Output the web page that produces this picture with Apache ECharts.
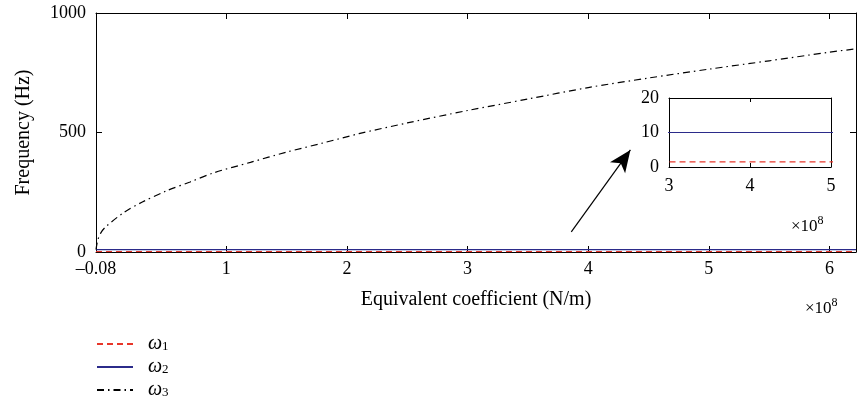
<!DOCTYPE html>
<html>
<head>
<meta charset="utf-8">
<script src="https://cdn.jsdelivr.net/npm/echarts@6/dist/echarts.min.js"></script>
<style>html,body{margin:0;padding:0;background:#fff}#c{width:857px;height:402px}</style>
</head>
<body>
<div id="c"></div>
<script>
// ---- data ----
const xK = [-0.08, -0.065, -0.04, 0, 0.15, 0.3, 0.5, 0.7, 0.9, 1.2, 1.5, 1.8, 2.1, 2.5, 3, 3.5, 4, 4.5, 5, 5.5, 6, 6.22];
const w3 = [10, 50, 80, 105, 165, 208, 255, 293, 332, 375, 418, 456, 495, 540, 592, 640, 688, 728, 765, 800, 836, 850];
const xFlat = [-0.08, 6.22];
const w1 = [1.5, 1.5];
const w2 = [10, 10];
const xTickLabels = [-0.08, 1, 2, 3, 4, 5, 6];
const xTicks = [1, 2, 3, 4, 5, 6];
const seriesNames = ['ω1', 'ω2', 'ω3'];
const arrowFrom = [3.86, 84];
const arrowTo = [4.35, 427];

const FONT = 'Liberation Serif';
const RED = '#e8362a', BLUE = '#2b2b8a', BLACK = '#000';
const pair = (xs, ys) => xs.map((x, i) => [x, ys[i]]);

const chart = echarts.init(document.getElementById('c'));
const axisLineStyle = { show: true, onZero: false, lineStyle: { color: '#000', width: 1 } };
const lbl = { fontFamily: FONT, fontSize: 18, color: '#000' };
const tickIn = (len, extra) => Object.assign({ inside: true, length: len, lineStyle: { color: '#000' } }, extra || {});

chart.setOption({
  animation: false,
  grid: [
    { left: 96, top: 13, right: 1, bottom: 150 },
    { left: 669, top: 98, width: 162, height: 69 }
  ],
  xAxis: [
    { type: 'value', gridIndex: 0, min: -0.08, max: 6.22, position: 'bottom',
      axisLine: axisLineStyle, splitLine: { show: false },
      axisTick: tickIn(6, { customValues: xTicks }),
      axisLabel: Object.assign({ margin: 8, customValues: xTickLabels,
        formatter: v => v < 0 ? '\u2013' + Math.abs(v).toFixed(2) : String(v) }, lbl),
      name: 'Equivalent coefficient (N/m)', nameLocation: 'middle', nameGap: 38,
      nameTextStyle: { fontFamily: FONT, fontSize: 20, color: '#000' } },
    { type: 'value', gridIndex: 0, min: -0.08, max: 6.22, position: 'top',
      axisLine: axisLineStyle, splitLine: { show: false },
      axisTick: tickIn(6, { customValues: xTicks }),
      axisLabel: { show: false } },
    { type: 'value', gridIndex: 1, min: 3, max: 5, interval: 1, position: 'bottom',
      axisLine: axisLineStyle, splitLine: { show: false },
      axisTick: tickIn(4),
      axisLabel: Object.assign({ margin: 10 }, lbl) },
    { type: 'value', gridIndex: 1, min: 3, max: 5, interval: 1, position: 'top',
      axisLine: axisLineStyle, splitLine: { show: false },
      axisTick: tickIn(4),
      axisLabel: { show: false } }
  ],
  yAxis: [
    { type: 'value', gridIndex: 0, min: 0, max: 1000, interval: 500, position: 'left',
      axisLine: axisLineStyle, splitLine: { show: false },
      axisTick: tickIn(6),
      axisLabel: Object.assign({ margin: 10, formatter: v => String(v) }, lbl),
      name: 'Frequency (Hz)', nameLocation: 'middle', nameGap: 62, nameRotate: 90,
      nameTextStyle: { fontFamily: FONT, fontSize: 20, color: '#000' } },
    { type: 'value', gridIndex: 0, min: 0, max: 1000, interval: 500, position: 'right',
      axisLine: axisLineStyle, splitLine: { show: false },
      axisTick: tickIn(6),
      axisLabel: { show: false } },
    { type: 'value', gridIndex: 1, min: 0, max: 20, interval: 10, position: 'left',
      axisLine: axisLineStyle, splitLine: { show: false },
      axisTick: tickIn(4),
      axisLabel: Object.assign({ margin: 10, formatter: v => String(v) }, lbl) },
    { type: 'value', gridIndex: 1, min: 0, max: 20, interval: 10, position: 'right',
      axisLine: axisLineStyle, splitLine: { show: false },
      axisTick: tickIn(4),
      axisLabel: { show: false } }
  ],
  legend: {
    orient: 'vertical', left: 96, top: 334, height: 120, padding: 0, itemWidth: 36, itemHeight: 12, itemGap: 3,
    data: seriesNames,
    itemStyle: { opacity: 0 },
    formatter: n => '{w|ω}{s|' + n.slice(1) + '}',
    textStyle: {
      rich: {
        w: { fontFamily: FONT, fontStyle: 'italic', fontSize: 20, color: '#000', lineHeight: 18, padding: [0, 0, 0, 10] },
        s: { fontFamily: FONT, fontSize: 13, color: '#000', lineHeight: 10, verticalAlign: 'bottom' }
      }
    }
  },
  graphic: [
    { type: 'text', left: 805, top: 297, style: {
        text: '{a|×10}{b|8}', rich: {
          a: { fontFamily: FONT, fontSize: 17, fill: '#000', lineHeight: 24 },
          b: { fontFamily: FONT, fontSize: 12, fill: '#000', lineHeight: 12, verticalAlign: 'top' } } } },
    { type: 'text', left: 791, top: 215, style: {
        text: '{a|×10}{b|8}', rich: {
          a: { fontFamily: FONT, fontSize: 17, fill: '#000', lineHeight: 24 },
          b: { fontFamily: FONT, fontSize: 12, fill: '#000', lineHeight: 12, verticalAlign: 'top' } } } }
  ],
  series: [
    { name: seriesNames[0], type: 'line', xAxisIndex: 0, yAxisIndex: 0, data: pair(xFlat, w1), symbol: 'none',
      lineStyle: { color: RED, width: 1.2, type: [6, 4] }, itemStyle: { color: RED } },
    { name: seriesNames[1], type: 'line', xAxisIndex: 0, yAxisIndex: 0, data: pair(xFlat, w2), symbol: 'none',
      lineStyle: { color: BLUE, width: 1.2, type: 'solid' }, itemStyle: { color: BLUE } },
    { name: seriesNames[2], type: 'line', xAxisIndex: 0, yAxisIndex: 0, data: pair(xK, w3), symbol: 'none', smooth: 0.3,
      lineStyle: { color: BLACK, width: 1.2, type: [7, 4, 1.5, 4] }, itemStyle: { color: BLACK },
      markLine: { silent: true, animation: false, symbol: ['none', 'arrow'], symbolSize: [14, 22],
        lineStyle: { color: '#000', width: 1.2, type: 'solid' }, label: { show: false },
        data: [[{ coord: arrowFrom }, { coord: arrowTo }]] } },
    { name: seriesNames[0], type: 'line', xAxisIndex: 2, yAxisIndex: 2, data: pair(xFlat, w1), symbol: 'none',
      lineStyle: { color: RED, width: 1.2, type: [6, 4] }, itemStyle: { color: RED } },
    { name: seriesNames[1], type: 'line', xAxisIndex: 2, yAxisIndex: 2, data: pair(xFlat, w2), symbol: 'none',
      lineStyle: { color: BLUE, width: 1.2, type: 'solid' }, itemStyle: { color: BLUE } }
  ]
});
</script>
</body>
</html>
